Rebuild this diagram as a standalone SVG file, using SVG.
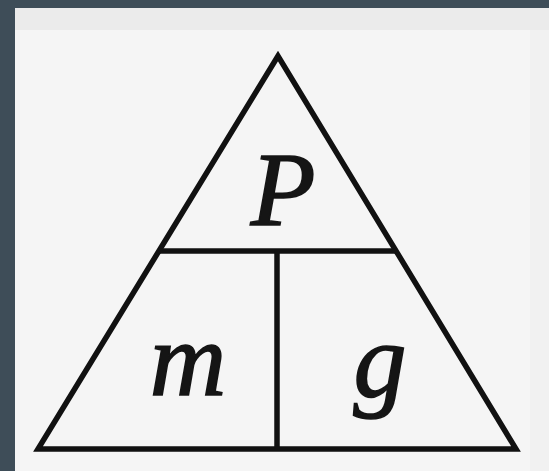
<svg xmlns="http://www.w3.org/2000/svg" width="549" height="471" viewBox="0 0 549 471">
<style>
.ln{stroke:#111;stroke-width:5.5;fill:none;stroke-linejoin:miter;stroke-linecap:butt}
.lbl{font-family:"Liberation Serif","Times New Roman",serif;font-style:italic;fill:#151515;stroke:#151515;stroke-width:1.6;text-anchor:middle}
</style>
<rect x="0" y="0" width="549" height="471" fill="#3e4d58"/>
<rect x="15" y="8" width="534" height="463" fill="#f5f5f5"/>
<rect x="15" y="8" width="534" height="22" fill="#ebebeb"/>
<rect x="530" y="30" width="19" height="441" fill="#f1f1f1"/>
<g id="triangle">
<polygon class="ln" points="278,56 38,449 516,449"/>
</g>
<g id="connectors">
<line class="ln" x1="158" y1="251" x2="396" y2="251"/>
<line class="ln" x1="277" y1="251" x2="277" y2="449"/>
</g>
<g id="node-P"><text class="lbl" x="283" y="225" font-size="106">P</text></g>
<g id="node-m"><text class="lbl" x="188" y="395" font-size="106">m</text></g>
<g id="node-g"><text class="lbl" x="380" y="396" font-size="106">g</text></g>
</svg>
